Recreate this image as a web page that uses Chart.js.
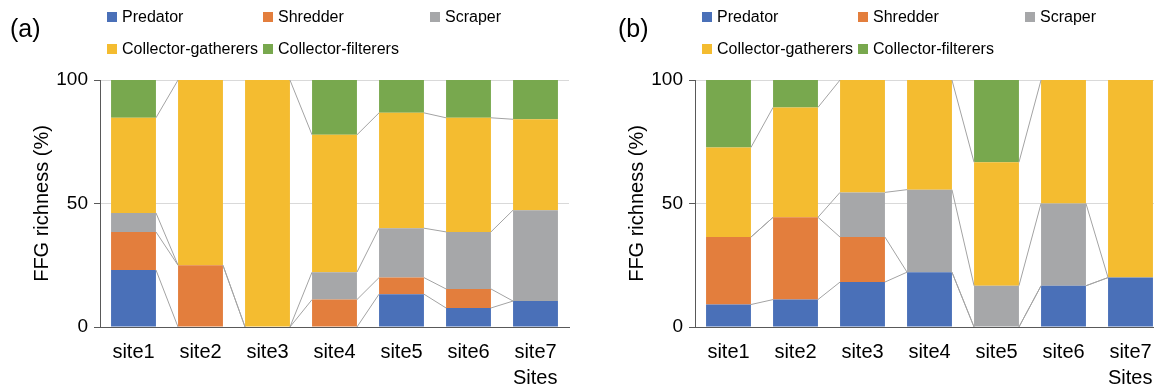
<!DOCTYPE html>
<html>
<head>
<meta charset="utf-8">
<script src="https://cdn.jsdelivr.net/npm/chart.js@4/dist/chart.umd.min.js"></script>
<style>
  html, body { margin:0; padding:0; background:#fff; width:1154px; height:388px; overflow:hidden; position:relative; font-family:"Liberation Sans", Arial, sans-serif; color:#000; }
  .panel { position:absolute; top:0; height:388px; }
  .lab { position:absolute; font-size:25px; }
  .leg { position:absolute; font-size:16px; line-height:18px; white-space:nowrap; }
  .leg i { display:inline-block; width:10px; height:10px; margin-right:5px; vertical-align:0px; }
  .sites { position:absolute; font-size:20px; }
</style>
</head>
<body>
<div class="panel" id="pa" style="left:0;width:577px;"><canvas id="ca" width="577" height="388"></canvas></div>
<div class="panel" id="pb" style="left:577px;width:600px;"><canvas id="cb" width="600" height="388"></canvas></div>
<div id="overlay"></div>
<script>
const sites = ["site1","site2","site3","site4","site5","site6","site7"];
const groups = ["Predator","Shredder","Scraper","Collector-gatherers","Collector-filterers"];
const colors = ["#4A70B8","#E37E3D","#A6A7A9","#F4BC30","#78A84E"];
const yTicks = [0, 50, 100];

// Panel (a) FFG richness (%)
const aPredator   = [23.1, 0,  0, 0,    13.3, 7.7,  10.5];
const aShredder   = [15.4, 25, 0, 11.1, 6.7,  7.7,  0];
const aScraper    = [7.7,  0,  0, 11.1, 20.0, 23.1, 36.8];
const aGatherers  = [38.5, 75, 100, 55.6, 46.7, 46.2, 36.8];
const aFilterers  = [15.3, 0,  0, 22.2, 13.3, 15.3, 15.9];

// Panel (b) FFG richness (%)
const bPredator   = [9.1,  11.1, 18.2, 22.2, 0,    16.7, 20];
const bShredder   = [27.3, 33.3, 18.2, 0,    0,    0,    0];
const bScraper    = [0,    0,    18.1, 33.4, 16.7, 33.3, 0];
const bGatherers  = [36.3, 44.5, 45.5, 44.4, 50.0, 50.0, 80];
const bFilterers  = [27.3, 11.1, 0,    0,    33.3, 0,    0];

const seriesLines = {
  id: 'seriesLines',
  afterDatasetsDraw(chart) {
    const ctx = chart.ctx;
    const area = chart.chartArea;
    ctx.save();
    ctx.strokeStyle = '#A3A3A3';
    ctx.lineWidth = 1;
    chart.data.datasets.forEach((ds, d) => {
      const meta = chart.getDatasetMeta(d);
      for (let i = 0; i < meta.data.length - 1; i++) {
        const e1 = meta.data[i], e2 = meta.data[i+1];
        const onEdge = (y) => Math.abs(y - area.top) < 0.6 || Math.abs(y - area.bottom) < 0.6;
        if (Math.abs(e1.y - e2.y) < 0.6 && onEdge(e1.y)) continue;
        ctx.beginPath();
        ctx.moveTo(e1.x + e1.width/2, e1.y);
        ctx.lineTo(e2.x - e2.width/2, e2.y);
        ctx.stroke();
      }
    });
    ctx.restore();
  }
};

function makeChart(id, data, yWidth, titlePad, rightPad) {
  const datasets = data.map((vals, k) => ({
    label: groups[k], data: vals, backgroundColor: colors[k],
    borderWidth: 0, categoryPercentage: 1.0, barPercentage: 0.67
  }));
  return new Chart(document.getElementById(id), {
    type: 'bar',
    data: { labels: sites, datasets },
    options: {
      responsive: false, animation: false,
      layout: { padding: { top: 80, right: rightPad, left: 0, bottom: 0 } },
      plugins: { legend: { display: false }, tooltip: { enabled: false } },
      scales: {
        x: {
          stacked: true,
          grid: { display: false },
          border: { display: true, color: '#595959', width: 1 },
          ticks: { color: '#000', font: { family: 'Liberation Sans', size: 20 }, padding: 5, maxRotation: 0 },
          afterFit(s) { s.height = 61; }
        },
        y: {
          stacked: true, min: 0, max: 100,
          afterBuildTicks(s) { s.ticks = yTicks.map(v => ({ value: v })); },
          grid: { color: '#D9D9D9', tickColor: '#595959', tickLength: 6, drawTicks: true },
          border: { display: true, color: '#595959', width: 1 },
          ticks: { color: '#000', font: { family: 'Liberation Sans', size: 19 }, padding: 6 },
          title: { display: true, text: 'FFG richness (%)', color: '#000',
                   font: { family: 'Liberation Sans', size: 20 }, padding: { top: titlePad, bottom: 0 } },
          afterFit(s) { s.width = yWidth; }
        }
      }
    },
    plugins: [seriesLines]
  });
}

makeChart('ca', [aPredator, aShredder, aScraper, aGatherers, aFilterers], 100, 30, 8);
makeChart('cb', [bPredator, bShredder, bScraper, bGatherers, bFilterers], 118, 48, 13);

// Legends, panel labels, axis titles
const ov = document.getElementById('overlay');
function addLegend(x0, cols) {
  const pos = [[cols[0],8],[cols[1],8],[cols[2],8],[cols[0],40],[cols[1],40]];
  groups.forEach((g, k) => {
    const d = document.createElement('div');
    d.className = 'leg';
    d.style.left = (x0 + pos[k][0]) + 'px';
    d.style.top = pos[k][1] + 'px';
    d.innerHTML = '<i style="background:' + colors[k] + '"></i>' + g;
    ov.appendChild(d);
  });
}
addLegend(0, [107, 263, 430]);
addLegend(595, [107, 263, 430]);
function addText(cls, txt, left, top) {
  const d = document.createElement('div');
  d.className = cls; d.textContent = txt;
  d.style.left = left + 'px'; d.style.top = top + 'px';
  ov.appendChild(d);
}
addText('lab', '(a)', 10, 14);
addText('lab', '(b)', 618, 14);
addText('sites', 'Sites', 513, 366);
addText('sites', 'Sites', 1108, 366);
</script>
</body>
</html>
